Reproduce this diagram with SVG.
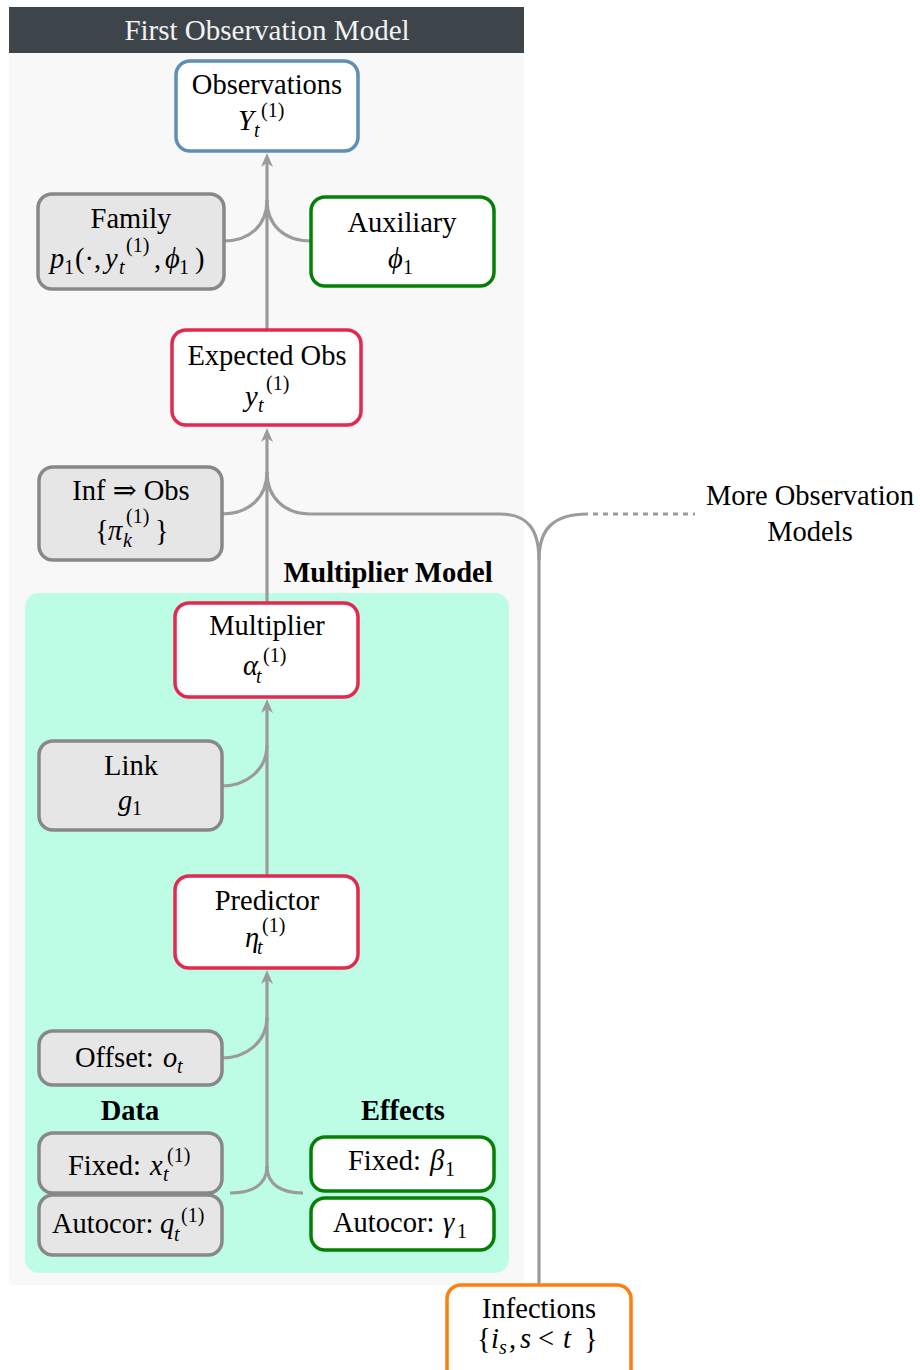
<svg xmlns="http://www.w3.org/2000/svg" width="920" height="1370" viewBox="0 0 920 1370">
<defs>
<marker id="arr" viewBox="0 0 14 12" markerUnits="userSpaceOnUse" markerWidth="14" markerHeight="12" refX="8" refY="6" orient="auto">
<path d="M14,6 L0,0 L4,6 L0,12 Z" fill="#9b9b9b"/>
</marker>
</defs>
<style>
text{font-family:"Liberation Serif","DejaVu Serif",serif;fill:#000}
.l{font-size:28.5px;text-anchor:middle}
.ls{font-size:28.5px}
.b{font-size:28.5px;font-weight:bold;text-anchor:middle}
.i{font-style:italic}
.s{font-size:20px}
.box{stroke-width:3.5}
.grey{fill:#e6e6e6;stroke:#888888}
.red{fill:#ffffff;stroke:#e2294f}
.green{fill:#ffffff;stroke:#058005}
.blue{fill:#ffffff;stroke:#5f8fb4}
.orange{fill:#ffffff;stroke:#ff7f0e}
.c{fill:none;stroke:#9b9b9b;stroke-width:3.2}
</style>
<rect x="0" y="0" width="920" height="1370" fill="#ffffff"/>
<g id="panel">
<rect x="9" y="53" width="515" height="1232" fill="#f8f8f8"/>
<rect x="9" y="7" width="515" height="46" fill="#3d454a"/>
<text x="267" y="40" class="l" style="fill:#f2f2f2;font-size:29px">First Observation Model</text>
<rect x="25" y="593" width="484" height="680" rx="14" fill="#bdfde6"/>
<text x="388" y="582" class="b">Multiplier Model</text>
<text x="130" y="1120" class="b">Data</text>
<text x="403" y="1120" class="b">Effects</text>
</g>
<g id="connectors">
<path class="c" d="M267,330 L267,159" marker-end="url(#arr)"/>
<path class="c" d="M267,603 L267,434" marker-end="url(#arr)"/>
<path class="c" d="M267,876 L267,705" marker-end="url(#arr)"/>
<path class="c" d="M267,1168 L267,976" marker-end="url(#arr)"/>
<path class="c" d="M224,241 C250,241 267,225 267,200"/>
<path class="c" d="M311,241 C284,241 267,225 267,200"/>
<path class="c" d="M222,514 C248,514 267,498 267,472"/>
<path class="c" d="M539,1290 L539,560 C539,530 528,514 500,514 L310,514 C285,514 267,498 267,472"/>
<path class="c" d="M539,560 C539,530 552,514 588,514"/>
<path class="c" d="M593,514 L695,514" stroke-dasharray="5 5"/>
<path class="c" d="M222,786 C246,786 267,770 267,745"/>
<path class="c" d="M222,1058 C246,1058 267,1042 267,1017"/>
<path class="c" d="M267,1166 C267,1185 252,1193 230,1193"/>
<path class="c" d="M267,1166 C267,1185 282,1193 303,1193"/>
</g>
<g id="observations">
<rect class="box blue" x="176" y="61" width="182" height="90" rx="14"/>
<text x="267" y="94" class="l">Observations</text>
<text class="ls"><tspan x="238" y="130" class="i">Y</tspan><tspan x="254" y="137" class="s i">t</tspan><tspan x="261" y="117" class="s">(1)</tspan></text>
</g>
<g id="family">
<rect class="box grey" x="38" y="194" width="186" height="95" rx="14"/>
<text x="131" y="228" class="l">Family</text>
<text class="ls"><tspan x="50" y="268" class="i">p</tspan><tspan x="64" y="274" class="s">1</tspan><tspan x="75" y="268">(·,</tspan><tspan x="105" y="268" class="i">y</tspan><tspan x="119" y="274" class="s i">t</tspan><tspan x="126" y="252" class="s">(1)</tspan><tspan x="154" y="268">,</tspan><tspan x="165" y="268" class="i">ϕ</tspan><tspan x="179" y="274" class="s">1</tspan><tspan x="195" y="268">)</tspan></text>
</g>
<g id="auxiliary">
<rect class="box green" x="311" y="197" width="183" height="89" rx="14"/>
<text x="402" y="232" class="l">Auxiliary</text>
<text class="ls"><tspan x="388" y="268" class="i">ϕ</tspan><tspan x="403" y="274" class="s">1</tspan></text>
</g>
<g id="expected-obs">
<rect class="box red" x="172" y="330" width="189" height="95" rx="14"/>
<text x="267" y="365" class="l">Expected Obs</text>
<text class="ls"><tspan x="245" y="406" class="i">y</tspan><tspan x="258" y="412" class="s i">t</tspan><tspan x="266" y="390" class="s">(1)</tspan></text>
</g>
<g id="inf-obs">
<rect class="box grey" x="39" y="467" width="183" height="93" rx="14"/>
<text x="131" y="500" class="l">Inf ⇒ Obs</text>
<text class="ls"><tspan x="95" y="540">{</tspan><tspan x="108" y="540" class="i">π</tspan><tspan x="123" y="547" class="s i">k</tspan><tspan x="126" y="523" class="s">(1)</tspan><tspan x="155" y="540">}</tspan></text>
</g>
<g id="more-obs">
<text x="810" y="505" class="l">More Observation</text>
<text x="810" y="541" class="l">Models</text>
</g>
<g id="multiplier">
<rect class="box red" x="175" y="603" width="183" height="94" rx="14"/>
<text x="267" y="635" class="l">Multiplier</text>
<text class="ls"><tspan x="243" y="675" class="i">α</tspan><tspan x="256" y="683" class="s i">t</tspan><tspan x="263" y="662" class="s">(1)</tspan></text>
</g>
<g id="link">
<rect class="box grey" x="39" y="741" width="183" height="89" rx="14"/>
<text x="131" y="775" class="l">Link</text>
<text class="ls"><tspan x="118" y="810" class="i">g</tspan><tspan x="132" y="815" class="s">1</tspan></text>
</g>
<g id="predictor">
<rect class="box red" x="175" y="876" width="183" height="92" rx="14"/>
<text x="267" y="910" class="l">Predictor</text>
<text class="ls"><tspan x="245" y="947" class="i">η</tspan><tspan x="257" y="954" class="s i">t</tspan><tspan x="262" y="932" class="s">(1)</tspan></text>
</g>
<g id="offset">
<rect class="box grey" x="39" y="1031" width="183" height="54" rx="14"/>
<text class="ls"><tspan x="75" y="1067">Offset:</tspan><tspan x="163" y="1067" class="i">o</tspan><tspan x="177" y="1073" class="s i">t</tspan></text>
</g>
<g id="fixed-data">
<rect class="box grey" x="39" y="1133" width="183" height="60" rx="14"/>
<text class="ls"><tspan x="68" y="1175">Fixed:</tspan><tspan x="150" y="1175" class="i">x</tspan><tspan x="163" y="1181" class="s i">t</tspan><tspan x="167" y="1162" class="s">(1)</tspan></text>
</g>
<g id="autocor-data">
<rect class="box grey" x="39" y="1195" width="183" height="60" rx="14"/>
<text class="ls"><tspan x="52" y="1233">Autocor:</tspan><tspan x="160" y="1233" class="i">q</tspan><tspan x="174" y="1241" class="s i">t</tspan><tspan x="181" y="1222" class="s">(1)</tspan></text>
</g>
<g id="fixed-effects">
<rect class="box green" x="311" y="1137" width="183" height="54" rx="14"/>
<text class="ls"><tspan x="348" y="1170">Fixed:</tspan><tspan x="430" y="1170" class="i">β</tspan><tspan x="445" y="1176" class="s">1</tspan></text>
</g>
<g id="autocor-effects">
<rect class="box green" x="311" y="1198" width="183" height="52" rx="14"/>
<text class="ls"><tspan x="333" y="1232">Autocor:</tspan><tspan x="443" y="1232" class="i">γ</tspan><tspan x="457" y="1238" class="s">1</tspan></text>
</g>
<g id="infections">
<rect class="box orange" x="447" y="1285" width="184" height="100" rx="14"/>
<text x="539" y="1318" class="l">Infections</text>
<text class="ls"><tspan x="477" y="1348">{</tspan><tspan x="491" y="1348" class="i">i</tspan><tspan x="499" y="1354" class="s i">s</tspan><tspan x="509" y="1348">,</tspan><tspan x="520" y="1348" class="i">s</tspan><tspan x="538" y="1348">&lt;</tspan><tspan x="563" y="1348" class="i">t</tspan><tspan x="584" y="1348">}</tspan></text>
</g>
</svg>
